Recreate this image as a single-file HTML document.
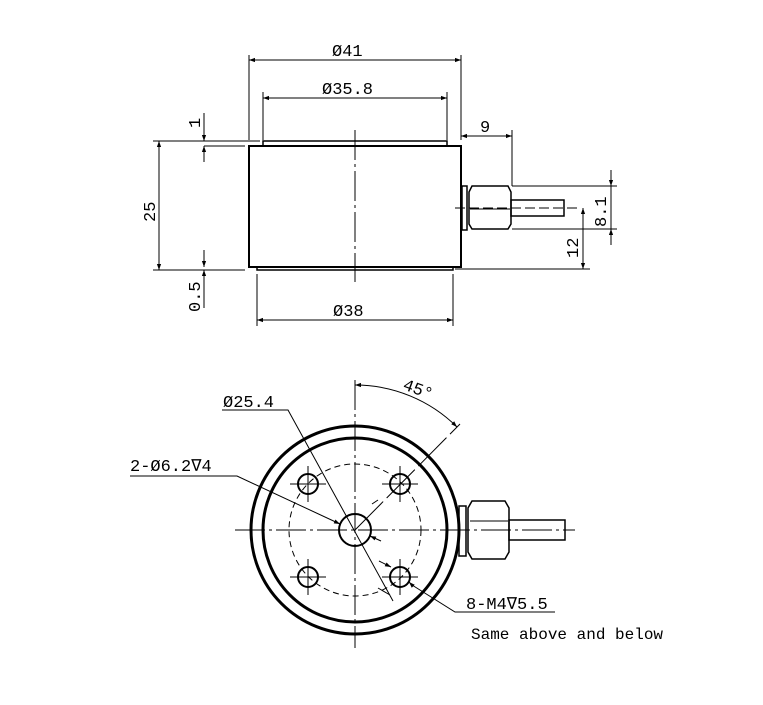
<!DOCTYPE html>
<html><head><style>
body{margin:0;background:#fff;}
svg text{font-family:"Liberation Mono","DejaVu Sans Mono",monospace;fill:#000;}
</style></head><body>
<svg width="763" height="700" viewBox="0 0 763 700" xmlns="http://www.w3.org/2000/svg">
<defs>
<marker id="a" viewBox="0 0 10 10" refX="10" refY="5" markerWidth="8" markerHeight="6" orient="auto-start-reverse" markerUnits="userSpaceOnUse"><path d="M0,1.5 L10,5 L0,8.5z" fill="#000"/></marker>
</defs>
<g stroke="#000" fill="none" stroke-width="1">
<rect x="249" y="146" width="212" height="121" stroke-width="2"/>
<rect x="263" y="141" width="184" height="5" stroke-width="1.5"/>
<rect x="257" y="267" width="196" height="3" stroke-width="1.5"/>
<line x1="355" y1="130" x2="355" y2="282" stroke-dasharray="30,4,3,4"/>
<line x1="249" y1="55" x2="249" y2="140"/>
<line x1="461" y1="55" x2="461" y2="140"/>
<line x1="249" y1="60" x2="461" y2="60" marker-start="url(#a)" marker-end="url(#a)"/>
<line x1="263" y1="92" x2="263" y2="140"/>
<line x1="447" y1="92" x2="447" y2="140"/>
<line x1="263" y1="98" x2="447" y2="98" marker-start="url(#a)" marker-end="url(#a)"/>
<line x1="153" y1="141" x2="260" y2="141"/>
<line x1="153" y1="270" x2="245" y2="270"/>
<line x1="204" y1="146" x2="245" y2="146"/>
<line x1="159" y1="141" x2="159" y2="270" marker-start="url(#a)" marker-end="url(#a)"/>
<line x1="204" y1="113" x2="204" y2="141" marker-end="url(#a)"/>
<line x1="204" y1="162" x2="204" y2="146" marker-end="url(#a)"/>
<line x1="204" y1="250" x2="204" y2="267" marker-end="url(#a)"/>
<line x1="204" y1="308" x2="204" y2="270" marker-end="url(#a)"/>
<line x1="257" y1="274" x2="257" y2="326"/>
<line x1="453" y1="274" x2="453" y2="326"/>
<line x1="257" y1="320" x2="453" y2="320" marker-start="url(#a)" marker-end="url(#a)"/>
<rect x="462" y="186" width="5" height="44" stroke-width="1.5"/>
<path d="M472,186 L508,186 L511,192 L511,224 L508,229 L472,229 L469,224 L469,192 Z" stroke-width="1.5"/>
<line x1="470" y1="209" x2="510" y2="209"/>
<rect x="511" y="200" width="53" height="16" stroke-width="1.5"/>
<line x1="455" y1="208" x2="578" y2="208" stroke-dasharray="10,4"/>
<line x1="512" y1="130" x2="512" y2="186"/>
<line x1="461" y1="136" x2="512" y2="136" marker-start="url(#a)" marker-end="url(#a)"/>
<line x1="512" y1="186" x2="617" y2="186"/>
<line x1="512" y1="229" x2="617" y2="229"/>
<line x1="611" y1="170" x2="611" y2="186" marker-end="url(#a)"/>
<line x1="611" y1="245" x2="611" y2="229" marker-end="url(#a)"/>
<line x1="611" y1="186" x2="611" y2="229"/>
<line x1="455" y1="269" x2="590" y2="269"/>
<line x1="583" y1="208" x2="583" y2="269" marker-start="url(#a)" marker-end="url(#a)"/>
<circle cx="355" cy="530" r="104" stroke-width="3"/>
<circle cx="355" cy="530" r="92" stroke-width="3"/>
<circle cx="355" cy="530" r="66" stroke-dasharray="6,4"/>
<circle cx="355" cy="530" r="16" stroke-width="2"/>
<circle cx="308" cy="484" r="10" stroke-width="2"/>
<circle cx="400" cy="484" r="10" stroke-width="2"/>
<circle cx="308" cy="577" r="10" stroke-width="2"/>
<circle cx="400" cy="577" r="10" stroke-width="2"/>
<g>
<line x1="290" y1="484" x2="326" y2="484"/><line x1="308" y1="466" x2="308" y2="502"/>
<line x1="382" y1="484" x2="418" y2="484"/><line x1="400" y1="466" x2="400" y2="502"/>
<line x1="290" y1="577" x2="326" y2="577"/><line x1="308" y1="559" x2="308" y2="595"/>
<line x1="382" y1="577" x2="418" y2="577"/><line x1="400" y1="559" x2="400" y2="595"/>
</g>
<line x1="355" y1="380" x2="355" y2="648" stroke-dasharray="30,4,3,4"/>
<line x1="235" y1="530" x2="575" y2="530" stroke-dasharray="30,4,3,4"/>
<line x1="355" y1="530" x2="460" y2="424" stroke-dasharray="40,5"/>
<path d="M355,385 A145,145 0 0 1 457,427" marker-start="url(#a)" marker-end="url(#a)"/>
<polyline points="222,410 288,410 393,601"/>
<line x1="372" y1="504" x2="378" y2="500"/>
<polyline points="130,476 237,476 340,524" marker-end="url(#a)"/>
<line x1="381" y1="541" x2="370" y2="536" marker-end="url(#a)"/>
<polyline points="555,612 455,612 412,585"/>
<line x1="412" y1="585" x2="409" y2="582" marker-end="url(#a)"/>
<line x1="379" y1="561" x2="391" y2="567" marker-end="url(#a)"/>
<line x1="390" y1="595" x2="378" y2="588"/>
<rect x="459" y="506" width="7" height="50" stroke-width="1.5"/>
<path d="M472,501 L505,501 L509,508 L509,552 L505,559 L472,559 L468,552 L468,508 Z" stroke-width="1.5"/>
<line x1="470" y1="521" x2="508" y2="521"/>
<rect x="509" y="520" width="56" height="20" stroke-width="1.5"/>
</g>
<g font-size="17">
<text x="332" y="56">Ø41</text>
<text x="322" y="94">Ø35.8</text>
<text x="480" y="132">9</text>
<text x="333" y="316">Ø38</text>
<text transform="translate(200,128) rotate(-90)">1</text>
<text transform="translate(155,222) rotate(-90)">25</text>
<text transform="translate(200,312) rotate(-90)">0.5</text>
<text transform="translate(606,227) rotate(-90)">8.1</text>
<text transform="translate(578,258) rotate(-90)">12</text>
<text x="223" y="407">Ø25.4</text>
<text x="130" y="471">2-Ø6.2∇4</text>
<text x="466" y="609">8-M4∇5.5</text>
<text transform="translate(402,389) rotate(20)">45°</text>
<text x="471" y="639" font-size="16">Same above and below</text>
</g>
</svg>
</body></html>
